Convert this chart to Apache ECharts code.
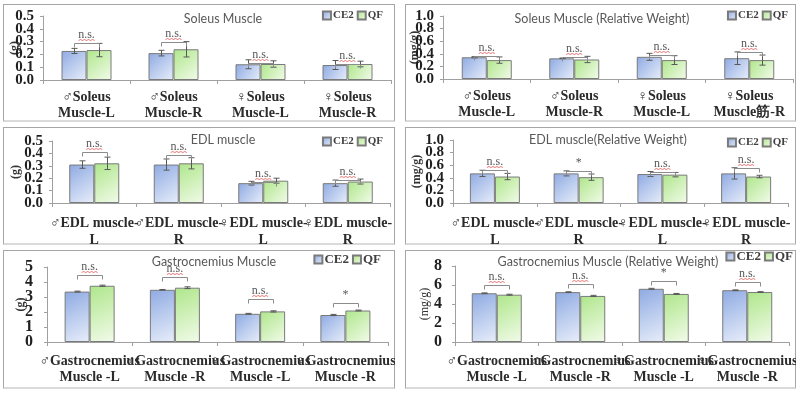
<!DOCTYPE html>
<html><head><meta charset="utf-8">
<script src="https://cdn.jsdelivr.net/npm/echarts@6/dist/echarts.min.js"></script>
<style>
body{margin:0;background:#fff;width:800px;height:394px;position:relative;overflow:hidden}
.b{position:absolute;box-sizing:border-box;border:1.5px solid #a6a6a6;border-bottom:2px solid #dadada}
.c{position:absolute}
</style></head><body>
<div class="b" style="left:3px;top:4px;width:392px;height:118px"></div>
<div class="b" style="left:405px;top:4px;width:391px;height:118px"></div>
<div class="b" style="left:3px;top:127px;width:392px;height:118px"></div>
<div class="b" style="left:405px;top:127px;width:391px;height:118px"></div>
<div class="b" style="left:3px;top:250px;width:392px;height:139px"></div>
<div class="b" style="left:405px;top:250px;width:391px;height:139px"></div>
<div class="c" id="c1" style="left:3px;top:4px;width:392px;height:118px"></div>
<div class="c" id="c2" style="left:405px;top:4px;width:391px;height:118px"></div>
<div class="c" id="c3" style="left:3px;top:127px;width:392px;height:118px"></div>
<div class="c" id="c4" style="left:405px;top:127px;width:391px;height:118px"></div>
<div class="c" id="c5" style="left:3px;top:250px;width:392px;height:139px"></div>
<div class="c" id="c6" style="left:405px;top:250px;width:391px;height:139px"></div>
<script>
// ---------- data ----------
const seriesNames = ['CE2', 'QF'];

const soleusCats = ['♂Soleus\nMuscle-L', '♂Soleus\nMuscle-R', '♀Soleus\nMuscle-L', '♀Soleus\nMuscle-R'];
const soleusCE2 = [0.227, 0.21, 0.123, 0.117];
const soleusCE2Err = [0.02, 0.022, 0.035, 0.035];
const soleusQF = [0.234, 0.24, 0.125, 0.125];
const soleusQFErr = [0.052, 0.06, 0.025, 0.022];
const soleusSig = ['n.s.', 'n.s.', 'n.s.', 'n.s.'];
const soleusSigY = [0.29, 0.30, 0.13, 0.125];
const soleusTicks = [0, 0.1, 0.2, 0.3, 0.4, 0.5];

const soleusRelCats = ['♂Soleus\nMuscle-L', '♂Soleus\nMuscle-R', '♀Soleus\nMuscle-L', '♀Soleus\nMuscle筋-R'];
const soleusRelCE2 = [0.345, 0.328, 0.352, 0.33];
const soleusRelCE2Err = [0.01, 0.005, 0.055, 0.1];
const soleusRelQF = [0.30, 0.31, 0.30, 0.30];
const soleusRelQFErr = [0.05, 0.05, 0.07, 0.08];
const soleusRelSig = ['n.s.', 'n.s.', 'n.s.', 'n.s.'];
const soleusRelSigY = [0.36, 0.35, 0.38, 0.43];
const soleusRelTicks = [0, 0.2, 0.4, 0.6, 0.8, 1.0];

const edlCats = ['♂EDL muscle-\nL', '♂EDL muscle-\nR', '♀EDL muscle-\nL', '♀EDL muscle-\nR'];
const edlCE2 = [0.31, 0.31, 0.16, 0.16];
const edlCE2Err = [0.03, 0.045, 0.015, 0.025];
const edlQF = [0.32, 0.32, 0.18, 0.173];
const edlQFErr = [0.05, 0.045, 0.02, 0.02];
const edlSig = ['n.s.', 'n.s.', 'n.s.', 'n.s.'];
const edlSigY = [0.41, 0.386, 0.17, 0.186];
const edlTicks = [0, 0.1, 0.2, 0.3, 0.4, 0.5];

const edlRelCats = ['♂EDL muscle-\nL', '♂EDL muscle-\nR', '♀EDL muscle-\nL', '♀EDL muscle-\nR'];
const edlRelCE2 = [0.47, 0.47, 0.46, 0.47];
const edlRelCE2Err = [0.05, 0.04, 0.04, 0.09];
const edlRelQF = [0.42, 0.41, 0.45, 0.42];
const edlRelQFErr = [0.05, 0.05, 0.035, 0.02];
const edlRelSig = ['n.s.', '*', 'n.s.', 'n.s.'];
const edlRelSigY = [0.52, 0.51, 0.50, 0.55];
const edlRelTicks = [0, 0.2, 0.4, 0.6, 0.8, 1.0];

const gasCats = ['♂Gastrocnemius\nMuscle -L', '♂Gastrocnemius\nMuscle -R', '♀Gastrocnemius\nMuscle -L', '♀Gastrocnemius\nMuscle -R'];
const gasCE2 = [3.36, 3.48, 1.88, 1.8];
const gasCE2Err = [0.03, 0.02, 0.03, 0.04];
const gasQF = [3.75, 3.62, 2.04, 2.1];
const gasQFErr = [0.04, 0.06, 0.04, 0.03];
const gasSig = ['n.s.', 'n.s.', 'n.s.', '*'];
const gasSigY = [4.5, 4.34, 2.84, 2.62];
const gasTicks = [0, 1, 2, 3, 4, 5];

const gasRelCats = ['♂Gastrocnemius\nMuscle -L', '♂Gastrocnemius\nMuscle -R', '♀Gastrocnemius\nMuscle -L', '♀Gastrocnemius\nMuscle -R'];
const gasRelCE2 = [5.13, 5.25, 5.6, 5.45];
const gasRelCE2Err = [0.04, 0.04, 0.05, 0.04];
const gasRelQF = [4.98, 4.85, 5.06, 5.26];
const gasRelQFErr = [0.05, 0.06, 0.05, 0.04];
const gasRelSig = ['n.s.', 'n.s.', '*', 'n.s.'];
const gasRelSigY = [6.0, 6.1, 6.45, 6.3];
const gasRelTicks = [0, 2, 4, 6, 8];

// ---------- rendering ----------
const SERIF = "'Liberation Serif','Times New Roman',serif";
const BAR = 25;
const blueGrad = () => new echarts.graphic.LinearGradient(0, 0, 1, 1, [
  {offset: 0, color: '#8eaae2'}, {offset: 1, color: '#e8eefa'}]);
const greenGrad = () => new echarts.graphic.LinearGradient(0, 0, 1, 1, [
  {offset: 0, color: '#aee68a'}, {offset: 1, color: '#f2fbea'}]);

function errSeries(vals, errs, side) {
  return {
    type: 'custom', z: 10, silent: true,
    data: vals.map((v, i) => [i, v, errs[i]]),
    renderItem(params, api) {
      const i = api.value(0), v = api.value(1), e = api.value(2);
      const t = api.coord([i, v + e]), b = api.coord([i, v - e]);
      const x = Math.round(t[0] + side * BAR / 2) + 0.5;
      const st = {stroke: '#595959', lineWidth: 1};
      return {type: 'group', children: [
        {type: 'line', shape: {x1: x, y1: t[1], x2: x, y2: b[1]}, style: st},
        {type: 'line', shape: {x1: x - 3, y1: t[1], x2: x + 3, y2: t[1]}, style: st},
        {type: 'line', shape: {x1: x - 3, y1: b[1], x2: x + 3, y2: b[1]}, style: st}
      ]};
    }
  };
}

function sigSeries(ys, labels) {
  return {
    type: 'custom', z: 11, silent: true,
    data: ys.map((y, i) => [i, y]),
    renderItem(params, api) {
      const i = api.value(0), y = api.value(1);
      const lab = labels[params.dataIndex];
      const p = api.coord([i, y]);
      const xl = Math.round(p[0] - BAR / 2) + 0.5, xr = Math.round(p[0] + BAR / 2) + 0.5, yy = Math.round(p[1]) + 0.5;
      const ch = [
        {type: 'polyline', shape: {points: [[xl, yy + 4], [xl, yy], [xr, yy], [xr, yy + 4]]},
         style: {stroke: '#8c8c8c', lineWidth: 1, fill: null}},
        {type: 'text', style: {text: lab, x: p[0], y: yy - 3, align: 'center', verticalAlign: 'bottom',
         font: '12px ' + SERIF, fill: '#595959'}}
      ];
      if (lab === 'n.s.') {
        const pts = [];
        for (let k = 0; k <= 8; k++) pts.push([p[0] - 8 + k * 2, yy - 3 + (k % 2 ? -1 : 0)]);
        ch.push({type: 'polyline', shape: {points: pts}, style: {stroke: '#e05050', lineWidth: 0.8, fill: null}});
      }
      return {type: 'group', children: ch};
    }
  };
}

function yAxisDef(c, labelVals, primary) {
  return {type: 'value', min: 0, max: c.ymax, interval: c.step, position: 'left',
    name: primary ? c.yname : '', nameLocation: 'middle', nameGap: c.nameGap, nameRotate: 90, nameMoveOverlap: false,
    nameTextStyle: {fontFamily: SERIF, fontSize: 12, color: '#333', fontWeight: c.nameBold ? 'bold' : 'normal'},
    splitLine: {show: false},
    axisLine: {show: primary, lineStyle: {color: '#a0a0a0'}},
    axisTick: {show: primary, length: 3, lineStyle: {color: '#a0a0a0'}},
    axisLabel: {customValues: labelVals, margin: c.yMargin, color: '#1f1f1f', fontFamily: SERIF, fontWeight: 'bold',
      fontSize: c.yFont, showMinLabel: true, showMaxLabel: true, hideOverlap: false,
      formatter: v => v.toFixed(c.dec)}};
}

function makePanel(id, c) {
  const chart = echarts.init(document.getElementById(id), null, {renderer: 'canvas'});
  const evenT = c.ticks.filter((t, k) => k % 2 === 0);
  const oddT = c.ticks.filter((t, k) => k % 2 === 1);
  chart.setOption({
    animation: false,
    title: {text: c.title, left: c.titleX, top: c.titleY, textAlign: 'center',
      textStyle: {fontFamily: 'Lato', fontWeight: 'normal', fontSize: 12.5, color: '#595959'}},
    legend: {data: seriesNames, right: c.legR, top: c.legY, orient: 'horizontal', width: 120,
      itemWidth: 8, itemHeight: 8, itemGap: 3, padding: 0,
      icon: 'rect', textStyle: {fontFamily: SERIF, fontWeight: 'bold', fontSize: c.legFont, color: '#404040', padding: [0, 0, 0, -3]}},
    grid: Object.assign({outerBoundsMode: 'none', containLabel: false}, c.grid),
    xAxis: {type: 'category', data: c.cats,
      axisLine: {lineStyle: {color: '#a0a0a0'}},
      axisTick: {show: true, length: 4, lineStyle: {color: '#a0a0a0'}},
      axisLabel: {interval: 0, margin: c.xMargin, lineHeight: c.xLine, color: '#2b2b2b', hideOverlap: false,
        fontFamily: SERIF, fontWeight: 'bold', fontSize: 14}},
    yAxis: [yAxisDef(c, evenT, true), yAxisDef(c, oddT, false)],
    series: [
      {type: 'bar', name: 'CE2', data: c.ce2, barWidth: BAR, barGap: '0%',
        itemStyle: {color: blueGrad(), borderColor: '#7a7a7a', borderWidth: 1}},
      {type: 'bar', name: 'QF', data: c.qf, barWidth: BAR, barGap: '0%',
        itemStyle: {color: greenGrad(), borderColor: '#7a7a7a', borderWidth: 1}},
      errSeries(c.ce2, c.ce2Err, -1),
      errSeries(c.qf, c.qfErr, 1),
      sigSeries(c.sigY, c.sig)
    ]
  });
}

makePanel('c1', {title: 'Soleus Muscle', titleX: 215, titleY: 3, legR: 12, legY: 6, legFont: 11,
  grid: {left: 40, right: 4, top: 12, bottom: 42}, cats: soleusCats, ticks: soleusTicks,
  ce2: soleusCE2, ce2Err: soleusCE2Err, qf: soleusQF, qfErr: soleusQFErr, sig: soleusSig, sigY: soleusSigY,
  ymax: 0.5, step: 0.1, dec: 1, yname: '(g)', nameGap: 22, yMargin: 9, yFont: 15, xMargin: 9, xLine: 16, nameBold: true});

makePanel('c2', {title: 'Soleus Muscle (Relative Weight)', titleX: 192, titleY: 3, legR: 8, legY: 6, legFont: 11,
  grid: {left: 38, right: 3, top: 12, bottom: 43}, cats: soleusRelCats, ticks: soleusRelTicks,
  ce2: soleusRelCE2, ce2Err: soleusRelCE2Err, qf: soleusRelQF, qfErr: soleusRelQFErr, sig: soleusRelSig, sigY: soleusRelSigY,
  ymax: 1.0, step: 0.2, dec: 1, yname: '(mg/g)', nameGap: 22, yMargin: 9, yFont: 15, xMargin: 9, xLine: 16, nameBold: true});

makePanel('c3', {title: 'EDL muscle', titleX: 215, titleY: 1, legR: 12, legY: 9, legFont: 11,
  grid: {left: 49, right: 5, top: 14, bottom: 42}, cats: edlCats, ticks: edlTicks,
  ce2: edlCE2, ce2Err: edlCE2Err, qf: edlQF, qfErr: edlQFErr, sig: edlSig, sigY: edlSigY,
  ymax: 0.5, step: 0.1, dec: 1, yname: '(g)', nameGap: 30, yMargin: 9, yFont: 15, xMargin: 12, xLine: 17, nameBold: true});

makePanel('c4', {title: 'EDL muscle(Relative Weight)', titleX: 198, titleY: 1, legR: 8, legY: 10, legFont: 11,
  grid: {left: 48, right: 8, top: 13, bottom: 42}, cats: edlRelCats, ticks: edlRelTicks,
  ce2: edlRelCE2, ce2Err: edlRelCE2Err, qf: edlRelQF, qfErr: edlRelQFErr, sig: edlRelSig, sigY: edlRelSigY,
  ymax: 1.0, step: 0.2, dec: 1, yname: '(mg/g)', nameGap: 30, yMargin: 9, yFont: 15, xMargin: 12, xLine: 17, nameBold: true});

makePanel('c5', {title: 'Gastrocnemius Muscle', titleX: 206, titleY: 0, legR: 14, legY: 3, legFont: 13,
  grid: {left: 44, right: 7, top: 17, bottom: 47}, cats: gasCats, ticks: gasTicks,
  ce2: gasCE2, ce2Err: gasCE2Err, qf: gasQF, qfErr: gasQFErr, sig: gasSig, sigY: gasSigY,
  ymax: 5, step: 1, dec: 0, yname: '(g)', nameGap: 20, yMargin: 14, yFont: 16, xMargin: 11, xLine: 16, nameBold: true});

makePanel('c6', {title: 'Gastrocnemius Muscle (Relative Weight)', titleX: 198, titleY: 0, legR: 3, legY: 0, legFont: 13,
  grid: {left: 50, right: 7, top: 16, bottom: 47}, cats: gasRelCats, ticks: gasRelTicks,
  ce2: gasRelCE2, ce2Err: gasRelCE2Err, qf: gasRelQF, qfErr: gasRelQFErr, sig: gasRelSig, sigY: gasRelSigY,
  ymax: 8, step: 2, dec: 0, yname: '(mg/g)', nameGap: 24, yMargin: 13, yFont: 16, xMargin: 11, xLine: 16, nameBold: false});
</script>
</body></html>
